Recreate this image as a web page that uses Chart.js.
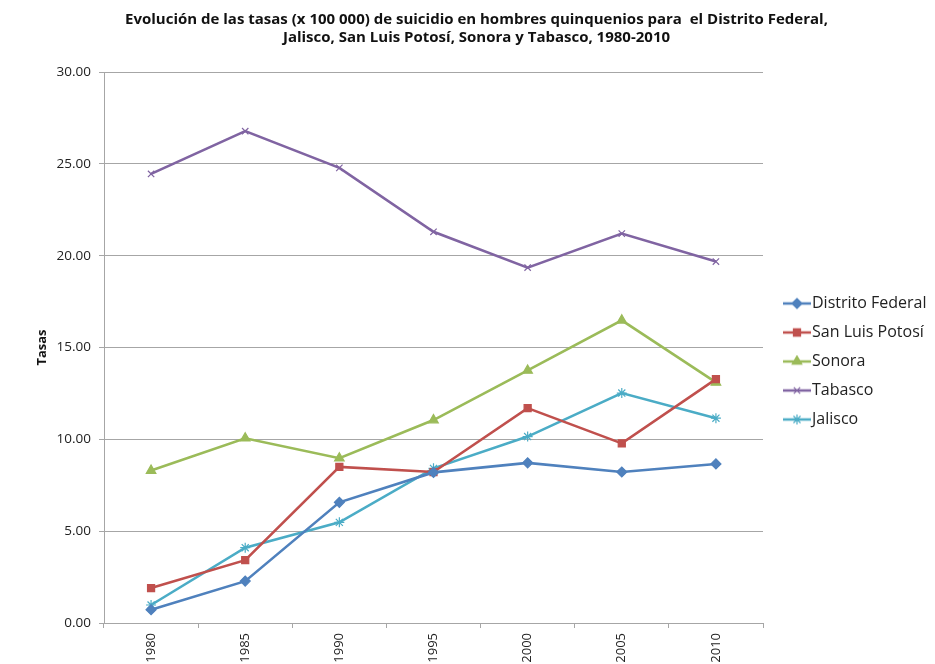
<!DOCTYPE html>
<html>
<head>
<meta charset="utf-8">
<script src="https://cdn.jsdelivr.net/npm/chart.js@4"></script>
<style>
    html, body { margin: 0; padding: 0; background: #fff; }
    canvas { display: block; }
</style>
</head>
<body>
<canvas id="chart" width="935" height="664"></canvas>
<script>
var years = ['1980', '1985', '1990', '1995', '2000', '2005', '2010'];

var distritoFederal = [0.72, 2.28, 6.57, 8.20, 8.72, 8.22, 8.66];
var sanLuisPotosi = [1.90, 3.42, 8.50, 8.22, 11.70, 9.78, 13.28];
var sonora = [8.30, 10.06, 8.97, 11.05, 13.75, 16.48, 13.10];
var tabasco = [24.45, 26.78, 24.78, 21.30, 19.35, 21.20, 19.68];
var jalisco = [0.98, 4.10, 5.48, 8.42, 10.15, 12.52, 11.15];

var yTicks = [0, 5, 10, 15, 20, 25, 30];

var fontFamily = '"Open Sans", Lato, sans-serif';

// legend symbol: a short line with the marker in its middle.
// the canvas is wider on the left so the visible part sits right of the legend box centre
function legendSymbol(color, style, radius) {
    var c = document.createElement('canvas');
    c.width = 42;
    c.height = 14;
    var ctx = c.getContext('2d');
    ctx.strokeStyle = color;
    ctx.lineWidth = 2.5;
    ctx.beginPath();
    ctx.moveTo(14, 7);
    ctx.lineTo(42, 7);
    ctx.stroke();
    ctx.fillStyle = color;
    ctx.lineWidth = 1.2;
    Chart.helpers.drawPoint(ctx, { pointStyle: style, radius: radius, rotation: 0, borderWidth: 1.2 }, 28, 7);
    ctx.fill();
    return c;
}

function series(label, data, color, style, radius) {
    return {
        label: label,
        data: data,
        borderColor: color,
        backgroundColor: color,
        borderWidth: 2.6,
        pointStyle: style,
        pointRadius: radius,
        pointHoverRadius: radius,
        pointBorderWidth: 1.2,
        tension: 0,
        legendImage: legendSymbol(color, style, radius)
    };
}

var ctx = document.getElementById('chart').getContext('2d');
var chart = new Chart(ctx, {
    type: 'line',
    data: {
        labels: years,
        datasets: [
            series('Distrito Federal', distritoFederal, '#4F81BD', 'rectRot', 5),
            series('San Luis Potosí', sanLuisPotosi, '#C0504D', 'rect', 5),
            series('Sonora', sonora, '#9BBB59', 'triangle', 5.5),
            series('Tabasco', tabasco, '#8064A2', 'crossRot', 4.5),
            series('Jalisco', jalisco, '#4BACC6', 'star', 5)
        ]
    },
    options: {
        responsive: false,
        animation: false,
        devicePixelRatio: 1,
        layout: { padding: { top: 11, right: 0, left: 18, bottom: 0 } },
        plugins: {
            title: {
                display: true,
                text: ['Evolución de las tasas (x 100 000) de suicidio en hombres quinquenios para  el Distrito Federal,',
                       'Jalisco, San Luis Potosí, Sonora y Tabasco, 1980-2010'],
                color: '#111',
                font: { family: fontFamily, size: 15, weight: 'bold' },
                padding: { top: 0, bottom: 25 },
                lineHeight: 1.47
            },
            legend: {
                position: 'right',
                maxWidth: 172,
                // empty title only pushes the entries a little lower
                title: {
                    display: true,
                    text: ' ',
                    font: { size: 10 },
                    padding: 18
                },
                labels: {
                    usePointStyle: true,
                    pointStyleWidth: 28,
                    padding: 13,
                    color: '#222',
                    font: { family: fontFamily, size: 16 },
                    generateLabels: function (chart) {
                        return chart.data.datasets.map(function (ds, i) {
                            return {
                                text: ds.label,
                                pointStyle: ds.legendImage,
                                fillStyle: ds.borderColor,
                                strokeStyle: ds.borderColor,
                                lineWidth: 0,
                                hidden: false,
                                datasetIndex: i,
                                fontColor: '#222'
                            };
                        });
                    }
                }
            },
            tooltip: { enabled: false }
        },
        scales: {
            x: {
                offset: true,
                afterFit: function (scale) {
                    scale.height = 41;
                },
                grid: {
                    display: true,
                    offset: true,
                    drawOnChartArea: false,
                    drawTicks: true,
                    tickLength: 5,
                    color: '#a6a6a6'
                },
                border: { color: '#a6a6a6', width: 1 },
                ticks: {
                    minRotation: 90,
                    maxRotation: 90,
                    color: '#222',
                    padding: 5,
                    font: { family: fontFamily, size: 13 }
                }
            },
            y: {
                min: 0,
                max: 30,
                afterFit: function (scale) {
                    scale.width = 86;
                },
                afterBuildTicks: function (scale) {
                    scale.ticks = yTicks.map(function (v) { return { value: v }; });
                },
                grid: {
                    color: '#a6a6a6',
                    tickLength: 5
                },
                border: { color: '#a6a6a6', width: 1 },
                ticks: {
                    color: '#222',
                    padding: 8,
                    font: { family: fontFamily, size: 13.5 },
                    callback: function (v) { return v.toFixed(2); }
                },
                title: {
                    display: true,
                    text: 'Tasas',
                    color: '#111',
                    font: { family: fontFamily, size: 13, weight: 'bold' },
                    padding: { top: 16, bottom: 0 }
                }
            }
        }
    }
});
</script>
</body>
</html>
